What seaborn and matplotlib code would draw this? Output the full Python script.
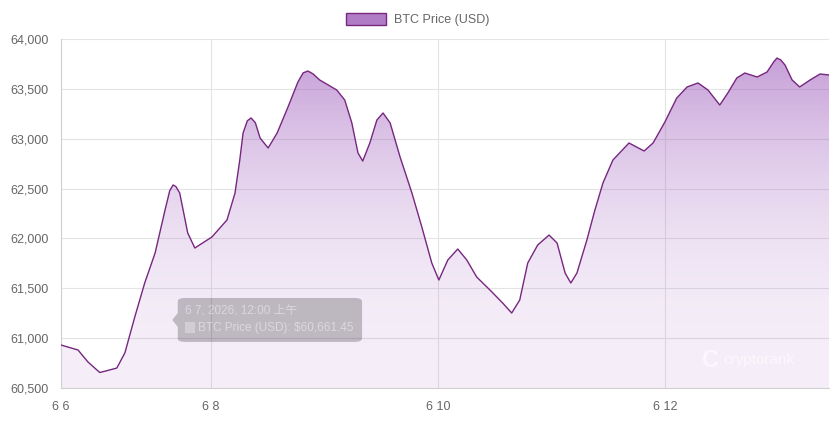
import numpy as np
import seaborn as sns
import matplotlib
matplotlib.use("Agg")
from matplotlib import pyplot as plt
from matplotlib.patches import Patch, FancyBboxPatch, Rectangle, Polygon

# hours since 6/6 00:00 and BTC price
hours = [16.3, 19.9, 22.0, 24.5, 28.1, 29.8, 31.9, 34.0, 36.2, 38.3,
         39.3, 40.0, 40.6, 41.4, 43.1, 44.6, 48.2, 51.4, 53.1, 54.1, 54.8,
         55.7, 56.5, 57.4, 58.4, 60.1, 62.0, 64.3, 66.4, 67.5, 68.5, 69.6,
         71.0, 74.6, 76.3, 77.8, 79.1, 80.1, 81.6, 83.1, 84.4, 85.9, 88.0,
         90.5, 92.6, 94.7, 96.2, 98.1, 100.2, 102.1, 104.2, 107.0, 109.7,
         111.6, 113.3, 115.0, 117.1, 119.5, 121.2, 122.9, 124.1, 125.4,
         127.5, 129.2, 130.9, 133.0, 136.4, 139.6, 141.5, 144.0, 146.5,
         148.7, 151.0, 153.1, 155.6, 157.3, 159.2, 160.9, 163.5, 165.6,
         167.0, 167.7, 168.5, 169.4, 170.9, 172.5, 174.7, 176.8, 178.7]
prices = [60931, 60881, 60761, 60655, 60700, 60851, 61212, 61553, 61854, 62285,
          62480, 62536, 62520, 62456, 62054, 61904, 62014, 62185, 62456, 62786,
          63057, 63180, 63208, 63160, 63007, 62907, 63057, 63318, 63569, 63660,
          63679, 63650, 63589, 63489, 63388, 63158, 62857, 62776, 62957, 63188,
          63258, 63158, 62817, 62456, 62115, 61754, 61583, 61784, 61894, 61784,
          61613, 61483, 61352, 61252, 61382, 61754, 61934, 62034, 61954, 61653,
          61553, 61653, 61984, 62285, 62556, 62786, 62957, 62877, 62957, 63168,
          63408, 63519, 63559, 63489, 63338, 63458, 63609, 63659, 63619, 63669,
          63770, 63809, 63790, 63739, 63589, 63519, 63589, 63649, 63639]

tick_hours = [hours[0], 48, 96, 144]
tick_labels = ["6 6", "6 8", "6 10", "6 12"]
y_ticks = [60500, 61000, 61500, 62000, 62500, 63000, 63500, 64000]

sns.set_style("white")
plt.rcParams['font.family'] = ['Liberation Sans', 'Noto Sans CJK SC', 'DejaVu Sans']

fig = plt.figure(figsize=(8.35, 4.25), dpi=100)
ax = fig.add_axes([61 / 835, 37 / 425, 768 / 835, 349 / 425])

line_c = "#76277f"
ymin, ymax = 60500, 64000
ax.set_xlim(hours[0], hours[-1])
ax.set_ylim(ymin, ymax)

# gradient fill under the line
poly = ax.fill_between(hours, prices, ymin, color="none", lw=0)
t = np.linspace(0, 1, 256).reshape(-1, 1)
alpha = 0.10 + 0.55 * t ** 2.2
grad = np.zeros((256, 1, 4))
grad[..., 0] = 0.62
grad[..., 1] = 0.36
grad[..., 2] = 0.74
grad[..., 3] = alpha
im = ax.imshow(grad, origin="lower", aspect="auto",
               extent=[hours[0], hours[-1], ymin, ymax], zorder=1)
im.set_clip_path(poly.get_paths()[0], transform=ax.transData)

sns.lineplot(x=hours, y=prices, color=line_c, lw=1.0, ax=ax, zorder=3)

ax.set_xticks(tick_hours)
ax.set_xticklabels(tick_labels)
ax.set_yticks(y_ticks)
ax.set_yticklabels([f"{v:,}" for v in y_ticks])
ax.grid(True, color="#e4e4e4", lw=0.8, zorder=0)
ax.set_axisbelow(True)
for s in ["top", "right"]:
    ax.spines[s].set_visible(False)
for s in ["left", "bottom"]:
    ax.spines[s].set_color("#d0d0d0")
    ax.spines[s].set_linewidth(0.8)
ax.tick_params(axis="both", colors="#e0e0e0", labelcolor="#666666",
               labelsize=9, length=7, width=0.8, pad=2)
ax.set_xlabel("")
ax.set_ylabel("")

# legend
fig.legend(handles=[Patch(facecolor="#b07cc6", edgecolor=line_c, lw=1)],
           labels=["BTC Price (USD)"], loc="upper center",
           bbox_to_anchor=(0.5, 0.995), frameon=False, fontsize=9,
           handlelength=3.2, handleheight=1.05, handletextpad=0.6,
           labelcolor="#666666")

# faded tooltip
box = FancyBboxPatch((0.152, 0.132), 0.240, 0.126, transform=ax.transAxes,
                     boxstyle="round,pad=0,rounding_size=0.01",
                     facecolor="black", alpha=0.22, lw=0, zorder=5)
ax.add_patch(box)
ax.add_patch(Polygon([(0.152, 0.175), (0.145, 0.195), (0.152, 0.215)],
                     closed=True, transform=ax.transAxes, facecolor="black",
                     alpha=0.22, lw=0, zorder=5))
ax.text(0.162, 0.222, "6 7, 2026, 12:00 上午", transform=ax.transAxes,
        color="white", alpha=0.45, fontsize=8.5, va="center", zorder=6)
ax.add_patch(Rectangle((0.162, 0.158), 0.012, 0.030, transform=ax.transAxes,
                       facecolor="white", alpha=0.3, lw=0, zorder=6))
ax.text(0.178, 0.173, "BTC Price (USD): $60,661.45", transform=ax.transAxes,
        color="white", alpha=0.45, fontsize=8.5, va="center", zorder=6)

# watermark
ax.text(0.835, 0.08, "C", transform=ax.transAxes, color="white", alpha=0.6,
        fontsize=17, fontweight="bold", va="center", zorder=6)
ax.text(0.862, 0.08, "cryptorank", transform=ax.transAxes, color="white",
        alpha=0.6, fontsize=11, va="center", zorder=6)

fig.savefig("out.png", dpi=100)
